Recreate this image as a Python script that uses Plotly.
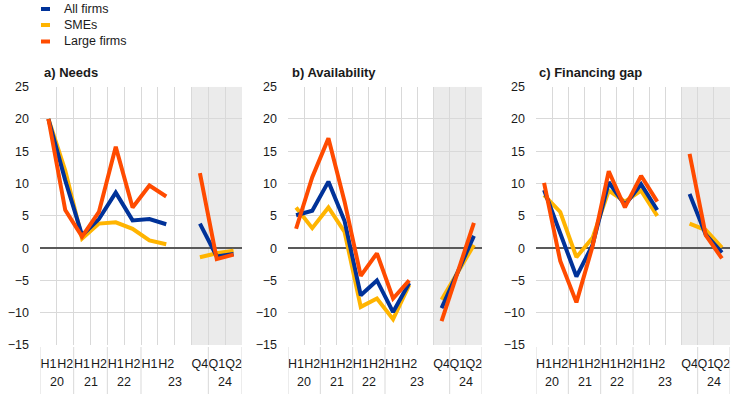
import plotly.graph_objects as go

# ---- data ----
period_labels = ["H1", "H2", "H1", "H2", "H1", "H2", "H1", "H2", "", "Q4", "Q1", "Q2"]
year_labels = ["20", "21", "22", "23", "24"]
year_spans = [2, 2, 2, 4, 2]          # number of slots per year group
forecast_slots = ["Q4", "Q1", "Q2"]   # shaded area

series_names = ["All firms", "SMEs", "Large firms"]

needs_all = [20, 10.5, 2.0, 4.5, 8.6, 4.3, 4.5, 3.7, None, 3.8, -1.3, -0.9]
needs_sme = [20, 12.0, 1.5, 3.8, 4.0, 3.0, 1.2, 0.6, None, -1.4, -0.8, -0.4]
needs_large = [20, 5.9, 1.8, 5.6, 15.7, 6.3, 9.7, 8.0, None, 11.6, -1.7, -1.0]

avail_all = [5.1, 5.8, 10.3, 4.2, -7.3, -5.0, -9.9, -5.4, None, -9.3, -3.7, 1.9]
avail_sme = [6.3, 3.1, 6.3, 2.5, -9.1, -7.8, -11.0, -5.7, None, -8.0, -3.8, 0.5]
avail_large = [3.0, 11.0, 17.0, 7.2, -4.3, -0.8, -7.8, -5.0, None, -11.3, -3.6, 3.9]

gap_all = [9.0, 2.3, -4.4, 0.5, 10.2, 6.7, 9.9, 5.9, None, 8.4, 2.1, -0.7]
gap_sme = [8.2, 5.6, -1.4, 1.6, 8.9, 7.2, 8.9, 5.0, None, 3.8, 2.8, 0.1]
gap_large = [10.1, -2.0, -8.4, 0.3, 11.9, 6.3, 11.2, 7.2, None, 14.6, 2.0, -1.6]

panel_titles = ["a) Needs", "b) Availability", "c) Financing gap"]

# ---- styling ----
colors = {"All firms": "#003299", "SMEs": "#FFB400", "Large firms": "#FF4B00"}
FONT = "Liberation Sans, Arial, sans-serif"
W, H = 744, 394
x_domains = [(40 / W, 242 / W), (288 / W, 482 / W), (536 / W, 730 / W)]
y_domain = (49 / H, 307.3 / H)
title_x = [42, 290, 537]

panels = [
    {"All firms": needs_all, "SMEs": needs_sme, "Large firms": needs_large},
    {"All firms": avail_all, "SMEs": avail_sme, "Large firms": avail_large},
    {"All firms": gap_all, "SMEs": gap_sme, "Large firms": gap_large},
]

slots = list(range(len(period_labels)))
fig = go.Figure()

draw_order = ["SMEs", "All firms", "Large firms"]
for p, pdata in enumerate(panels):
    suffix = "" if p == 0 else str(p + 1)
    for name in draw_order:
        fig.add_trace(go.Scatter(
            x=slots, y=pdata[name], mode="lines", name=name,
            line=dict(color=colors[name], width=4),
            connectgaps=False, showlegend=False,
            xaxis="x" + suffix, yaxis="y" + suffix,
        ))

layout = dict(
    width=W, height=H,
    margin=dict(l=0, r=0, t=0, b=0, autoexpand=False),
    paper_bgcolor="white", plot_bgcolor="white",
    font=dict(family=FONT, size=12, color="#1a1a1a"),
    showlegend=False,
)

shapes = []
annotations = []
first_fc = period_labels.index(forecast_slots[0])
last_fc = len(period_labels) - 1
boundaries = [i - 0.5 for i in range(len(period_labels) + 1)]

for p in range(3):
    suffix = "" if p == 0 else str(p + 1)
    layout["xaxis" + suffix] = dict(
        domain=list(x_domains[p]), anchor="y" + suffix,
        range=[-0.5, len(period_labels) - 0.5],
        tickmode="array", tickvals=slots, ticktext=period_labels,
        tickangle=0, automargin=False,
        showgrid=False, zeroline=False, showline=False, ticks="",
        ticklabelstandoff=9,
        tickfont=dict(size=12.5, color="#1a1a1a"),
        minor=dict(tickmode="array", tickvals=boundaries, showgrid=True,
                   gridcolor="#D9D9D9", gridwidth=1, ticks=""),
        fixedrange=True,
    )
    layout["yaxis" + suffix] = dict(
        domain=list(y_domain), anchor="x" + suffix,
        range=[-15, 25], tickmode="linear", tick0=-15, dtick=5,
        showgrid=True, gridcolor="#D9D9D9", gridwidth=1,
        zeroline=True, zerolinecolor="#595959", zerolinewidth=2,
        showline=False, ticks="", ticklabelstandoff=10, automargin=False,
        tickfont=dict(size=12.5, color="#1a1a1a"),
        fixedrange=True,
    )
    # forecast shading
    shapes.append(dict(type="rect", xref="x" + suffix, yref="y" + suffix,
                       x0=first_fc - 0.5, x1=last_fc + 0.5, y0=-15, y1=25,
                       fillcolor="#EBEBEB", line=dict(width=0), layer="below"))
    # year separators and labels
    start = 0
    seps = [-0.5]
    for lab, span in zip(year_labels, year_spans):
        center = start + (span - 1) / 2
        annotations.append(dict(text=lab, xref="x" + suffix, yref="paper",
                                x=center, y=(H - 382) / H, showarrow=False,
                                xanchor="center", yanchor="middle",
                                font=dict(size=12.5, color="#1a1a1a")))
        start += span
        seps.append(start - 0.5)
    for s in seps:
        shapes.append(dict(type="line", xref="x" + suffix, yref="paper",
                           x0=s, x1=s, y0=0, y1=(H - 347) / H,
                           line=dict(color="#D9D9D9", width=1)))
    # panel title
    annotations.append(dict(text="<b>" + panel_titles[p] + "</b>", xref="paper", yref="paper",
                            x=title_x[p] / W, y=(H - 72) / H, showarrow=False,
                            xanchor="left", yanchor="middle",
                            font=dict(size=13, color="#1a1a1a")))

# manual legend
legend_y = [9, 25, 41.5]
for name, ly in zip(series_names, legend_y):
    shapes.append(dict(type="line", xref="paper", yref="paper",
                       x0=41 / W, x1=50 / W, y0=(H - ly) / H, y1=(H - ly) / H,
                       line=dict(color=colors[name], width=4)))
    annotations.append(dict(text=name, xref="paper", yref="paper",
                            x=62 / W, y=(H - ly) / H, showarrow=False,
                            xanchor="left", yanchor="middle",
                            font=dict(size=12.5, color="#1a1a1a")))

layout["shapes"] = shapes
layout["annotations"] = annotations
fig.update_layout(**layout)
fig.write_html("out.html",
               config={"displayModeBar": False},
               post_script="document.body.style.margin='0';document.body.style.padding='0';"
                           "document.body.style.overflow='hidden';")
